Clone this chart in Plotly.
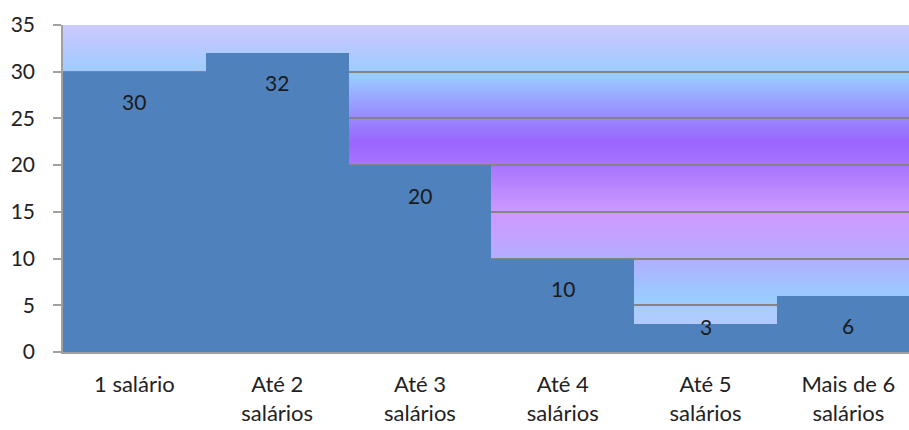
import base64
import struct
import zlib

import plotly.graph_objects as go

# Faixas salariais e quantidades
categorias = ["1 salário", "Até 2<br>salários", "Até 3<br>salários",
              "Até 4<br>salários", "Até 5<br>salários", "Mais de 6<br>salários"]
valores = [30, 32, 20, 10, 3, 6]

y_ticks = [0, 5, 10, 15, 20, 25, 30, 35]

FONT = "Lato"
BAR_COLOR = "#4F81BD"
Y_MAX = 35

# Paradas do degradê de fundo (valor do eixo y -> cor)
grad_stops = [
    (0.0, (0xC4, 0xCA, 0xFF)),
    (4.7, (0xAA, 0xCC, 0xFF)),
    (5.6, (0x99, 0xCC, 0xFF)),
    (7.5, (0xA2, 0xC0, 0xFF)),
    (10.0, (0xB2, 0xAE, 0xFF)),
    (12.5, (0xC4, 0xA2, 0xFF)),
    (15.0, (0xCC, 0x99, 0xFF)),
    (17.5, (0xBB, 0x88, 0xFF)),
    (20.0, (0xA8, 0x74, 0xFF)),
    (22.5, (0x99, 0x66, 0xFF)),
    (25.0, (0x99, 0x88, 0xFF)),
    (27.0, (0x99, 0xA4, 0xFF)),
    (29.5, (0x99, 0xCC, 0xFF)),
    (31.0, (0xA8, 0xCC, 0xFF)),
    (33.0, (0xBA, 0xC8, 0xFF)),
    (35.0, (0xCC, 0xCC, 0xFF)),
]


def grad_color(v):
    for (v0, c0), (v1, c1) in zip(grad_stops, grad_stops[1:]):
        if v0 <= v <= v1:
            t = (v - v0) / (v1 - v0) if v1 > v0 else 0
            return tuple(round(a + (b - a) * t) for a, b in zip(c0, c1))
    return grad_stops[-1][1]


def gradient_png(rows=700, cols=2):
    """PNG vertical gradient, top row = Y_MAX, bottom row = 0."""
    raw = bytearray()
    for r in range(rows):
        v = Y_MAX * (1 - (r + 0.5) / rows)
        pix = bytes(grad_color(v)) * cols
        raw += b"\x00" + pix

    def chunk(tag, data):
        c = struct.pack(">I", len(data)) + tag + data
        return c + struct.pack(">I", zlib.crc32(tag + data) & 0xFFFFFFFF)

    png = b"\x89PNG\r\n\x1a\n"
    png += chunk(b"IHDR", struct.pack(">IIBBBBB", cols, rows, 8, 2, 0, 0, 0))
    png += chunk(b"IDAT", zlib.compress(bytes(raw), 9))
    png += chunk(b"IEND", b"")
    return "data:image/png;base64," + base64.b64encode(png).decode()


fig = go.Figure()
fig.add_trace(go.Bar(
    x=categorias,
    y=valores,
    marker=dict(color=BAR_COLOR, line=dict(width=0)),
    hoverinfo="skip",
))

# Rótulos de valor dentro das barras
annotations = []
for cat, v in zip(categorias, valores):
    annotations.append(dict(
        x=cat, y=max(v - 3.2, 2.75), xref="x", yref="y",
        text=str(v), showarrow=False,
        font=dict(family=FONT, size=21, color="#1A1A1A"),
    ))

fig.update_layout(
    width=909, height=430,
    margin=dict(l=63, r=0, t=25, b=78, pad=0),
    paper_bgcolor="white",
    plot_bgcolor="white",
    bargap=0,
    showlegend=False,
    annotations=annotations,
    images=[dict(
        source=gradient_png(),
        xref="paper", yref="y", x=0, y=Y_MAX, sizex=1, sizey=Y_MAX,
        xanchor="left", yanchor="top", sizing="stretch", layer="below",
    )],
    font=dict(family=FONT, size=22, color="#222222"),
)

fig.update_xaxes(
    type="category",
    range=[-0.5, 5.425],
    showgrid=False,
    showline=True, linecolor="#A0A0A0", linewidth=1.5,
    ticks="", ticklabelstandoff=12,
    tickfont=dict(family=FONT, size=22, color="#222222"),
)
fig.update_yaxes(
    range=[0, Y_MAX],
    tickvals=y_ticks,
    showgrid=True, gridcolor="#858585", gridwidth=1.5,
    showline=True, linecolor="#A0A0A0", linewidth=1.5,
    ticks="outside", ticklen=8, tickcolor="#A0A0A0", tickwidth=1.5,
    ticklabelstandoff=14,
    tickfont=dict(family=FONT, size=21, color="#222222"),
    zeroline=False,
)

fig.write_html("out.html")
